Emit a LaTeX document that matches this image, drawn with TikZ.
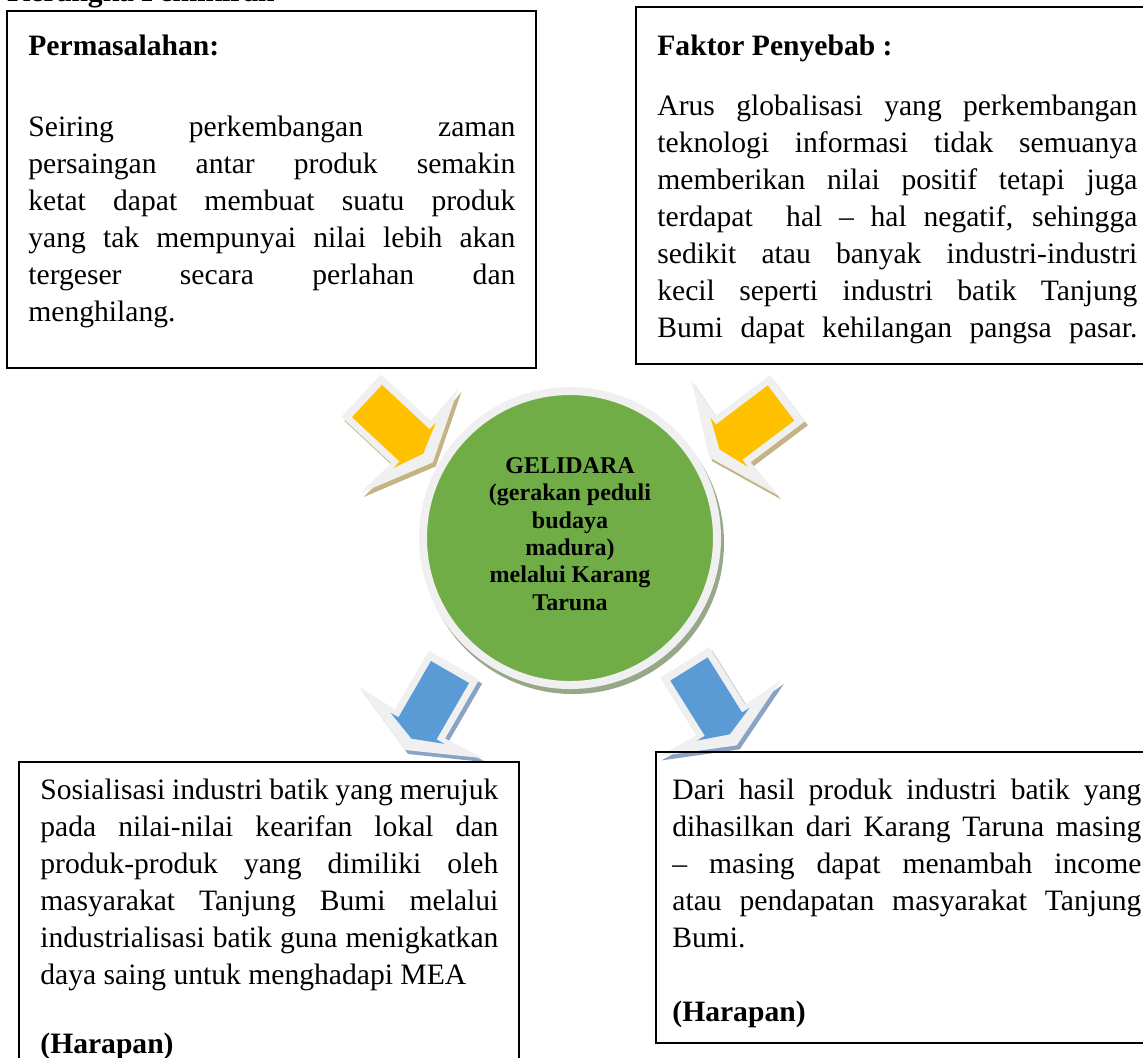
\documentclass[tikz,border=0pt]{standalone}
\usepackage{fontspec}
\setmainfont{Liberation Serif}
\usepackage{xcolor}
\usetikzlibrary{calc}

\definecolor{kuning}{HTML}{FFC000}
\definecolor{biru}{HTML}{5B9BD5}
\definecolor{hijau}{HTML}{70AD47}
\definecolor{bingkai}{HTML}{F0F0F0}
\definecolor{bayangkuning}{RGB}{196,180,132}
\definecolor{bayangbiru}{RGB}{138,162,196}
\definecolor{bayanghijau}{RGB}{150,168,136}

% panah blok: #1 posisi pangkal, #2 sudut, #3 warna isi, #4 warna bayangan
\newcommand{\panah}[4]{%
  \begin{scope}[shift={(3,4)}]
    \fill[#4, shift={#1}, rotate=#2]
      (-8,-29) -- (60,-29) -- (58,-72) -- (90,0) -- (58,72) -- (60,29) -- (-8,29) -- cycle;
  \end{scope}
  \begin{scope}[shift={#1}, rotate=#2]
    \fill[bingkai]
      (-8,-29) -- (60,-29) -- (58,-72) -- (90,0) -- (58,72) -- (60,29) -- (-8,29) -- cycle;
    \fill[#3]
      (0,-22) -- (65,-22) -- (65,-31) -- (77,0) -- (65,31) -- (65,22) -- (0,22) -- cycle;
  \end{scope}}

\begin{document}
\begin{tikzpicture}[
    x=0.5pt, y=-0.5pt,
    % ---- gaya ----
    kotak/.style = {draw, rectangle, line width=1pt, inner sep=0pt},
    isi/.style = {anchor=base west, inner sep=0pt, align=justify,
                  font=\fontsize{14.8pt}{18.5pt}\selectfont},
    judul/.style = {anchor=base west, inner sep=0pt,
                    font=\fontsize{14.8pt}{18.5pt}\selectfont\bfseries},
    pusat/.style = {circle, fill=hijau, draw=bingkai, line width=4pt,
                    minimum size=147pt, inner sep=0pt}
  ]
  \useasboundingbox (0,0) rectangle (1143,1057);

  % judul bagian (terpotong di tepi atas)
  \node[judul] (kepala) at (7,1) {Kerangka Pemikiran};

  % ===================== kotak atas =====================
  \node[kotak, minimum width=264.5pt, minimum height=178.5pt] (masalah) at (271.5,189.5) {};
  \node[judul] (masalahjudul) at (28,55) {Permasalahan:};
  \node[isi, text width=243.5pt] (masalahisi) at (28,136) {%
    Seiring perkembangan zaman\linebreak
    persaingan antar produk semakin\linebreak
    ketat dapat membuat suatu produk\linebreak
    yang tak mempunyai nilai lebih akan\linebreak
    tergeser secara perlahan dan\linebreak
    menghilang.};

  \node[kotak, minimum width=261pt, minimum height=178.5pt] (penyebab) at (897,185.5) {};
  \node[judul] (penyebabjudul) at (657,55) {Faktor Penyebab :};
  \node[isi, text width=240pt] (penyebabisi) at (657,115) {\parfillskip=0pt
    Arus globalisasi yang perkembangan\linebreak
    teknologi informasi tidak semuanya\linebreak
    memberikan nilai positif tetapi juga\linebreak
    terdapat\ \ hal – hal negatif, sehingga\linebreak
    sedikit atau banyak industri-industri\linebreak
    kecil seperti industri batik Tanjung\linebreak
    Bumi dapat kehilangan pangsa pasar.\par};

  % ===================== panah =====================
  \panah{(367,401)}{-43}{kuning}{bayangkuning}
  \panah{(781,403)}{-143}{kuning}{bayangkuning}
  \panah{(450,672)}{-120}{biru}{bayangbiru}
  \panah{(689,669)}{-58}{biru}{bayangbiru}

  % ===================== lingkaran tengah =====================
  \coordinate (tengah) at (570,538);
  \fill[bayanghijau] ($(tengah)+(3,5)$) circle (75.5pt);
  \node[pusat] (gelidara) at (tengah) {};
  \node[align=center, font=\fontsize{12pt}{13.7pt}\selectfont\bfseries] (gelidarateks) at ($(tengah)+(0,-4)$)
    {GELIDARA\\(gerakan peduli\\budaya\\madura)\\melalui Karang\\Taruna};

  % ===================== kotak bawah =====================
  \node[kotak, minimum width=250pt, minimum height=156.5pt] (sosialisasi) at (269,918.5) {};
  \node[isi, text width=229pt] (sosialisasiisi) at (40,799) {%
    Sosialisasi industri batik yang merujuk\linebreak
    pada nilai-nilai kearifan lokal dan\linebreak
    produk-produk yang dimiliki oleh\linebreak
    masyarakat Tanjung Bumi melalui\linebreak
    industrialisasi batik guna menigkatkan\linebreak
    daya saing untuk menghadapi MEA\par
    \vspace{16pt}
    \textbf{(Harapan)}};

  \node[kotak, minimum width=252pt, minimum height=145.5pt] (hasil) at (908,897.5) {};
  \node[isi, text width=234.5pt] (hasilisi) at (672,799) {%
    Dari hasil produk industri batik yang\linebreak
    dihasilkan dari Karang Taruna masing\linebreak
    – masing dapat menambah income\linebreak
    atau pendapatan masyarakat Tanjung\linebreak
    Bumi.\par
    \vspace{18.5pt}
    \textbf{(Harapan)}};
\end{tikzpicture}
\end{document}
